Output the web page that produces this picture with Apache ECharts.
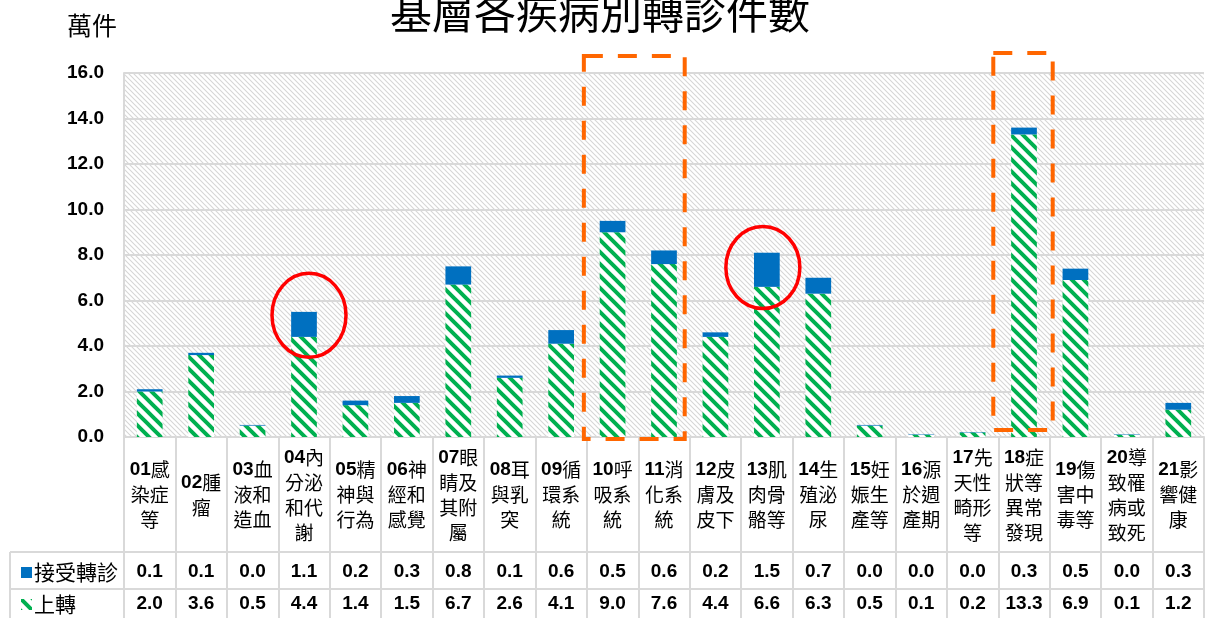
<!DOCTYPE html>
<html lang="zh-Hant">
<head>
<meta charset="UTF-8">
<script src="https://cdn.jsdelivr.net/npm/echarts@6/dist/echarts.min.js"></script>
<style>
  html, body { margin: 0; padding: 0; background: #fff; }
  #main { width: 1223px; height: 618px; }
</style>
</head>
<body>
<div id="main"></div>
<script>
// 疾病別 (ICD 大類)
var categories = [
  '01感\n染症\n等', '02腫\n瘤', '03血\n液和\n造血', '04內\n分泌\n和代\n謝', '05精\n神與\n行為',
  '06神\n經和\n感覺', '07眼\n睛及\n其附\n屬', '08耳\n與乳\n突', '09循\n環系\n統', '10呼\n吸系\n統',
  '11消\n化系\n統', '12皮\n膚及\n皮下', '13肌\n肉骨\n骼等', '14生\n殖泌\n尿', '15妊\n娠生\n產等',
  '16源\n於週\n產期', '17先\n天性\n畸形\n等', '18症\n狀等\n異常\n發現', '19傷\n害中\n毒等', '20導\n致罹\n病或\n致死',
  '21影\n響健\n康'
];
// 接受轉診 (萬件)
var acceptVals = [0.1, 0.1, 0.03, 1.1, 0.2, 0.3, 0.8, 0.1, 0.6, 0.5, 0.6, 0.2, 1.5, 0.7, 0.03, 0.02, 0.02, 0.3, 0.5, 0.02, 0.3];
// 上轉 (萬件)
var upVals = [2.0, 3.6, 0.5, 4.4, 1.4, 1.5, 6.7, 2.6, 4.1, 9.0, 7.6, 4.4, 6.6, 6.3, 0.5, 0.1, 0.2, 13.3, 6.9, 0.1, 1.2];
var yTicks = [0, 2, 4, 6, 8, 10, 12, 14, 16];

var lineGray = '#d9d9d9';
var cjk = '"Noto Sans CJK TC", "Noto Sans CJK SC", sans-serif';
var num = '"Liberation Sans", Arial, sans-serif';

// 斜線填色
function stripeTile(size, color, width, bg) {
  var c = document.createElement('canvas');
  c.width = size; c.height = size;
  var g = c.getContext('2d');
  if (bg) { g.fillStyle = bg; g.fillRect(0, 0, size, size); }
  g.strokeStyle = color;
  g.lineWidth = width;
  g.beginPath();
  g.moveTo(-size, 0); g.lineTo(size, size * 2);
  g.moveTo(0, 0); g.lineTo(size, size);
  g.moveTo(0, -size); g.lineTo(size * 2, size);
  g.stroke();
  return c;
}
var greenPattern = { image: stripeTile(12, '#00b050', 4, '#ffffff'), repeat: 'repeat' };
var bgPattern = { image: stripeTile(5, '#d6d6d6', 1.1, '#ffffff'), repeat: 'repeat' };

function catLabel(v) {
  return '{n|' + v.slice(0, 2) + '}' + v.slice(2);
}

var legendText = { fontFamily: cjk, fontSize: 21, color: '#000', padding: [0, 0, 0, -3] };

var chart = echarts.init(document.getElementById('main'));
var option = {
  animation: false,
  title: [
    { text: '基層各疾病別轉診件數', left: 385, top: -13,
      textStyle: { fontFamily: cjk, fontSize: 42, fontWeight: 'normal', color: '#000' } },
    { text: '萬件', left: 62, top: 8,
      textStyle: { fontFamily: cjk, fontSize: 25, fontWeight: 'normal', color: '#000' } }
  ],
  legend: [
    { left: 16, top: 557, itemWidth: 11, itemHeight: 11, textStyle: legendText,
      data: [{ name: '接受轉診', icon: 'rect' }] },
    { left: 16, top: 589, itemWidth: 11, itemHeight: 11, textStyle: legendText,
      data: [{ name: '上轉', icon: 'rect' }] }
  ],
  grid: {
    left: 124, right: 19, top: 73, bottom: 181,
    show: true, borderWidth: 0, backgroundColor: bgPattern
  },
  xAxis: [
    {
      type: 'category', data: categories, position: 'bottom',
      axisLine: { lineStyle: { color: lineGray, width: 2 } },
      axisTick: { show: true, length: 181, lineStyle: { color: lineGray, width: 2 } },
      axisLabel: {
        interval: 0, margin: 58, verticalAlign: 'middle', lineHeight: 25,
        fontFamily: cjk, fontSize: 19, color: '#000',
        formatter: catLabel,
        rich: { n: { fontFamily: num, fontWeight: 'bold', fontSize: 19, color: '#000' } }
      }
    },
    {
      type: 'category', data: categories, position: 'bottom', offset: 115,
      axisLine: { lineStyle: { color: lineGray, width: 2 } },
      axisTick: { show: false },
      axisLabel: {
        interval: 0, margin: 20, verticalAlign: 'middle',
        fontFamily: num, fontWeight: 'bold', fontSize: 19, color: '#000',
        formatter: function (v, i) { return acceptVals[i].toFixed(1); }
      }
    },
    {
      type: 'category', data: categories, position: 'bottom', offset: 152,
      axisLine: { lineStyle: { color: lineGray, width: 2 } },
      axisTick: { show: false },
      axisLabel: {
        interval: 0, margin: 15, verticalAlign: 'middle',
        fontFamily: num, fontWeight: 'bold', fontSize: 19, color: '#000',
        formatter: function (v, i) { return upVals[i].toFixed(1); }
      }
    }
  ],
  yAxis: {
    type: 'value', min: yTicks[0], max: yTicks[yTicks.length - 1], interval: 2,
    axisLine: { show: true, lineStyle: { color: lineGray, width: 2 } },
    axisTick: { show: false },
    splitLine: { lineStyle: { color: lineGray, width: 2 } },
    axisLabel: {
      margin: 20, fontFamily: num, fontWeight: 'bold', fontSize: 19, color: '#000',
      formatter: function (v) { return v.toFixed(1); }
    }
  },
  series: [
    {
      name: '上轉', type: 'bar', stack: 'total', barWidth: '50%',
      itemStyle: { color: greenPattern },
      data: upVals
    },
    {
      name: '接受轉診', type: 'bar', stack: 'total', barWidth: '50%',
      itemStyle: { color: '#0070c0' },
      data: acceptVals
    }
  ]
};
chart.setOption(option);

// 表格左側欄框線 + 標註 (紅圈、橘色虛線框)
var px = function (c, v) { return chart.convertToPixel({ xAxisIndex: 0, yAxisIndex: 0 }, [c, v]); };
var half = px(1, 0)[0] - px(0, 0)[0];
var base = px(0, 0)[1];
var orange = { stroke: '#ff6600', lineWidth: 4, fill: null, lineDash: [19, 15] };
var box1a = px(9, 16), box1b = px(10, 0);
var box2a = px(17, 16);
var c1 = px(3, 5.35), c2 = px(12, 7.45);

chart.setOption({
  graphic: [
    { type: 'line', shape: { x1: 10, y1: base + 115, x2: 124, y2: base + 115 }, style: { stroke: lineGray, lineWidth: 2 } },
    { type: 'line', shape: { x1: 10, y1: base + 152, x2: 124, y2: base + 152 }, style: { stroke: lineGray, lineWidth: 2 } },
    { type: 'line', shape: { x1: 10, y1: base + 115, x2: 10, y2: 618 }, style: { stroke: lineGray, lineWidth: 2 } },
    { type: 'rect', z: 100,
      shape: { x: box1a[0] - half / 2 - 3, y: 56, width: (box1b[0] - box1a[0]) + half - 2, height: base + 2 - 56 },
      style: orange },
    { type: 'rect', z: 100,
      shape: { x: box2a[0] - half / 2 - 5, y: 53, width: half + 8, height: base - 7 - 53 },
      style: orange },
    { type: 'ellipse', z: 100, shape: { cx: c1[0] + 5, cy: c1[1], rx: 37, ry: 42 },
      style: { stroke: '#ff0000', lineWidth: 3.5, fill: null } },
    { type: 'ellipse', z: 100, shape: { cx: c2[0] - 4, cy: c2[1], rx: 37, ry: 41 },
      style: { stroke: '#ff0000', lineWidth: 3.5, fill: null } }
  ]
});
</script>
</body>
</html>
